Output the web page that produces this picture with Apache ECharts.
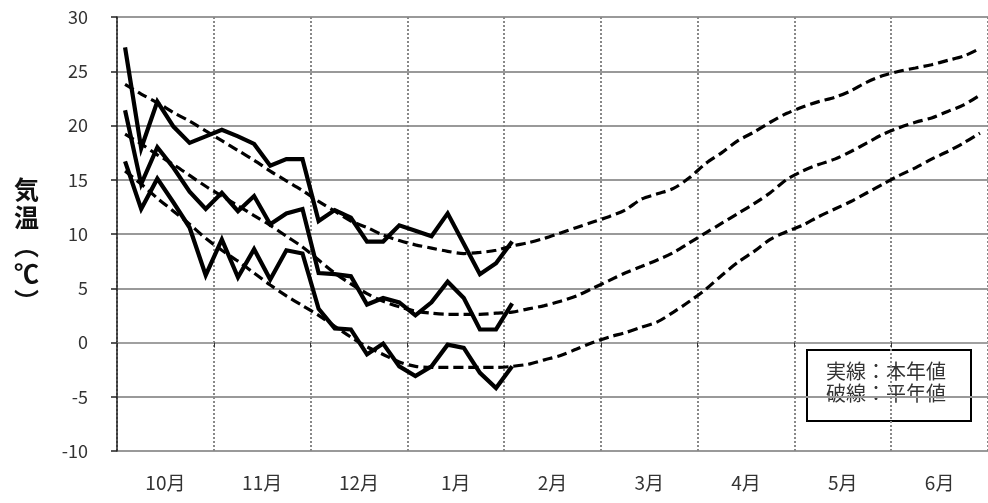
<!DOCTYPE html>
<html>
<head>
<meta charset="utf-8">
<script src="https://cdn.jsdelivr.net/npm/echarts@6/dist/echarts.min.js"></script>
<style>
  html, body { margin: 0; padding: 0; background: #fff; }
  #chart { width: 988px; height: 503px; }
</style>
</head>
<body>
<div id="chart"></div>
<script>
// Months shown along the bottom axis
const months = ['10月', '11月', '12月', '1月', '2月', '3月', '4月', '5月', '6月'];
// Six pentads (半旬) per month
const pentadsPerMonth = 6;
// Y-axis ticks
const yMin = -10, yMax = 30, yStep = 5;

// This year's pentad values (solid lines), Oct 1st pentad – Feb 1st pentad
const maxActual  = [27.2, 17.9, 22.2, 19.9, 18.4, 19.0, 19.6, 19.0, 18.3, 16.3, 16.9, 16.9,
                    11.2, 12.2, 11.5, 9.3, 9.3, 10.8, 10.3, 9.8, 11.9, 9.1, 6.3, 7.3, 9.3];
const meanActual = [21.4, 14.6, 18.0, 16.1, 13.9, 12.3, 13.8, 12.1, 13.5, 10.9, 11.9, 12.3,
                    6.4, 6.3, 6.1, 3.5, 4.1, 3.7, 2.5, 3.7, 5.6, 4.1, 1.2, 1.2, 3.6];
const minActual  = [16.7, 12.3, 15.1, 12.9, 10.6, 6.2, 9.5, 6.0, 8.6, 5.8, 8.5, 8.2,
                    3.1, 1.3, 1.2, -1.1, -0.1, -2.2, -3.1, -2.2, -0.2, -0.5, -2.8, -4.2, -2.2];

// Normal values (dashed lines), Oct – Jun
const maxNormal  = [23.8, 22.9, 22.1, 21.2, 20.4, 19.5, 18.6, 17.7, 16.8, 15.8, 14.9, 14.0,
                    13.0, 12.1, 11.2, 10.6, 9.9, 9.4, 9.0, 8.7, 8.4, 8.2, 8.3, 8.5,
                    8.9, 9.2, 9.6, 10.1, 10.6, 11.1, 11.6, 12.2, 13.2, 13.7, 14.2, 15.2,
                    16.5, 17.5, 18.6, 19.4, 20.3, 21.1, 21.7, 22.2, 22.6, 23.2, 24.0, 24.6,
                    25.0, 25.3, 25.6, 26.0, 26.4, 27.1];
const meanNormal = [19.2, 18.3, 17.3, 16.4, 15.4, 14.4, 13.5, 12.6, 11.7, 10.8, 9.8, 8.8,
                    7.6, 6.4, 5.4, 4.5, 3.8, 3.3, 2.9, 2.7, 2.6, 2.6, 2.6, 2.7,
                    2.8, 3.1, 3.4, 3.8, 4.3, 5.0, 5.7, 6.4, 7.0, 7.6, 8.3, 9.2,
                    10.1, 11.0, 11.9, 12.8, 13.8, 15.0, 15.8, 16.4, 16.9, 17.6, 18.4, 19.2,
                    19.8, 20.3, 20.7, 21.3, 21.9, 22.8];
const minNormal  = [15.8, 14.6, 13.3, 12.1, 10.9, 9.6, 8.5, 7.5, 6.4, 5.3, 4.3, 3.4,
                    2.5, 1.5, 0.5, -0.4, -1.1, -1.8, -2.2, -2.3, -2.3, -2.3, -2.3, -2.3,
                    -2.2, -2.0, -1.6, -1.2, -0.6, 0.0, 0.5, 0.9, 1.4, 1.9, 2.8, 3.8,
                    4.9, 6.2, 7.4, 8.4, 9.5, 10.2, 10.8, 11.6, 12.3, 13.0, 13.8, 14.6,
                    15.4, 16.1, 16.9, 17.6, 18.4, 19.3];

// Pentad category labels built from the month names
const pentads = [];
months.forEach(m => { for (let k = 1; k <= pentadsPerMonth; k++) pentads.push(m + k); });

const FONT = '"Noto Sans CJK JP", "Noto Sans", sans-serif';

const solid = (name, data) => ({
  name, type: 'line', xAxisIndex: 1, data, symbol: 'none', z: 4,
  lineStyle: { color: '#000', width: 4.2, join: 'miter' }
});
const dashed = (name, data) => ({
  name, type: 'line', xAxisIndex: 1, data, symbol: 'none', z: 3, smooth: 0.3,
  lineStyle: { color: '#000', width: 3.2, type: [10, 5] }
});

const chart = echarts.init(document.getElementById('chart'), null, { renderer: 'canvas' });
chart.setOption({
  animation: false,
  backgroundColor: '#fff',
  textStyle: { fontFamily: FONT },
  grid: { left: 117, top: 17, width: 874, height: 434, containLabel: false },
  xAxis: [
    {
      type: 'category', data: months, boundaryGap: true, position: 'bottom',
      axisLine: { lineStyle: { color: '#a0a0a0', width: 2 } },
      axisTick: { show: true, length: 5, lineStyle: { color: '#333', width: 1 } },
      axisLabel: { color: '#333', fontSize: 19, margin: 22, fontFamily: FONT },
      splitLine: { show: true, lineStyle: { color: '#888', width: 2, type: [2, 2] } }
    },
    {
      type: 'category', data: pentads, boundaryGap: true, position: 'bottom',
      show: false
    }
  ],
  yAxis: {
    type: 'value', min: yMin, max: yMax, interval: yStep,
    axisLine: { show: true, lineStyle: { color: '#222', width: 1.5 } },
    axisTick: { show: true, length: 6, lineStyle: { color: '#222', width: 1.5 } },
    axisLabel: { color: '#333', fontSize: 18, margin: 29, fontFamily: FONT },
    splitLine: { show: true, lineStyle: { color: '#999', width: 2 } }
  },
  series: [
    dashed('最高平年', maxNormal),
    dashed('平均平年', meanNormal),
    dashed('最低平年', minNormal),
    solid('最高', maxActual),
    solid('平均', meanActual),
    solid('最低', minActual)
  ],
  graphic: [
    {
      type: 'text', left: 14, top: 175, z: 10,
      style: {
        text: '気\n温\n︵\n℃\n︶', fill: '#111', font: 'bold 25px ' + FONT,
        lineHeight: 28, align: 'center'
      }
    },
    {
      type: 'group', left: 806, top: 349, z: 10,
      children: [
        {
          type: 'rect', shape: { x: 0, y: 0, width: 164, height: 71 },
          style: { fill: '#fff', stroke: '#000', lineWidth: 2 }
        },
        {
          type: 'text', x: 19, y: 10,
          style: {
            text: '実線：本年値\n破線：平年値', fill: '#333',
            font: '20px ' + FONT, lineHeight: 22
          }
        }
      ]
    }
  ]
});
</script>
</body>
</html>
